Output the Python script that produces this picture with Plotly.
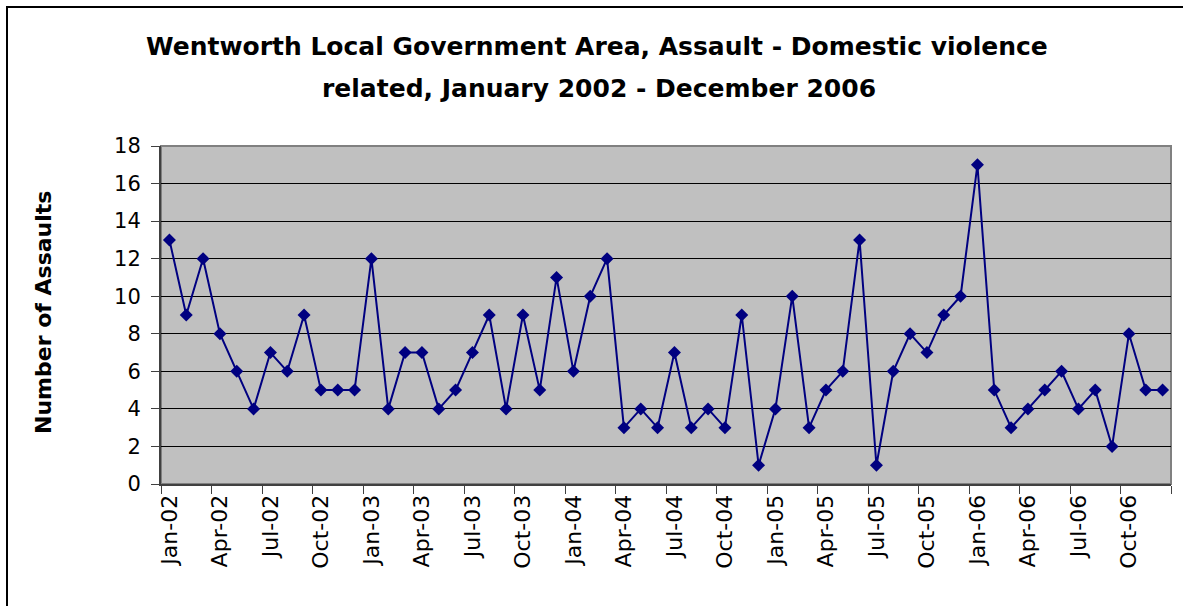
import plotly.graph_objects as go

# Monthly counts, January 2002 - December 2006
months = [f"{m}-{y:02d}" for y in range(2, 7)
          for m in ["Jan", "Feb", "Mar", "Apr", "May", "Jun",
                    "Jul", "Aug", "Sep", "Oct", "Nov", "Dec"]]
assaults = [13, 9, 12, 8, 6, 4, 7, 6, 9, 5, 5, 5,
            12, 4, 7, 7, 4, 5, 7, 9, 4, 9, 5, 11,
            6, 10, 12, 3, 4, 3, 7, 3, 4, 3, 9, 1,
            4, 10, 3, 5, 6, 13, 1, 6, 8, 7, 9, 10,
            17, 5, 3, 4, 5, 6, 4, 5, 2, 8, 5, 5]
y_ticks = list(range(0, 19, 2))

title_1 = "Wentworth Local Government Area, Assault - Domestic violence"
title_2 = "related, January 2002 - December 2006"
y_title = "Number of Assaults"

FONT = "DejaVu Sans, Arial, sans-serif"
NAVY = "#000080"

# plot area in pixels
L, R, T, B = 161, 12, 146, 122
W, H = 1183, 606
pw, ph = W - L - R, H - T - B


def px_x(p):
    return (p - L) / pw


def px_y(p):
    return (H - B - p) / ph


fig = go.Figure()
fig.add_trace(go.Scatter(
    x=months, y=assaults, mode="lines+markers",
    line=dict(color=NAVY, width=2),
    marker=dict(symbol="diamond", size=10, color=NAVY),
    showlegend=False, cliponaxis=False,
))

fig.update_layout(
    width=W, height=H,
    margin=dict(l=L, r=R, t=T, b=B, pad=0),
    paper_bgcolor="white", plot_bgcolor="#C0C0C0",
    font=dict(family=FONT, color="black", size=20),
    xaxis=dict(
        type="category", range=[-0.5, len(months) - 0.5],
        dtick=3, tickson="boundaries", ticks="outside", ticklen=8,
        tickwidth=1, tickcolor="#404040", tickangle=-90,
        showgrid=False, showline=True, linecolor="#404040", linewidth=2,
        tickfont=dict(size=22), zeroline=False,
    ),
    yaxis=dict(
        range=[0, 18], tickvals=y_ticks, ticks="outside", ticklen=8,
        tickwidth=1, tickcolor="#404040", ticklabelstandoff=6,
        showgrid=True, gridcolor="black", gridwidth=1,
        showline=True, linecolor="#404040", linewidth=2,
        zeroline=False, tickfont=dict(size=21),
    ),
    shapes=[
        # plot area frame
        dict(type="rect", xref="paper", yref="paper", x0=0, x1=1, y0=0, y1=1,
             line=dict(color="#808080", width=2), layer="below"),
        # chart frame (left and top edges)
        dict(type="path", xref="paper", yref="paper",
             path=f"M {px_x(7)} {px_y(700)} L {px_x(7)} {px_y(7)} L {px_x(1300)} {px_y(7)}",
             line=dict(color="black", width=2)),
    ],
    annotations=[
        dict(text=f"<b>{title_1}</b>", xref="paper", yref="paper",
             x=px_x(597), y=px_y(47), showarrow=False,
             font=dict(size=25), xanchor="center", yanchor="middle"),
        dict(text=f"<b>{title_2}</b>", xref="paper", yref="paper",
             x=px_x(599), y=px_y(88), showarrow=False,
             font=dict(size=25), xanchor="center", yanchor="middle"),
        dict(text=f"<b>{y_title}</b>", xref="paper", yref="paper",
             x=px_x(43), y=px_y(313), showarrow=False, textangle=-90,
             font=dict(size=22), xanchor="center", yanchor="middle"),
    ],
)

fig.write_html("out.html")
